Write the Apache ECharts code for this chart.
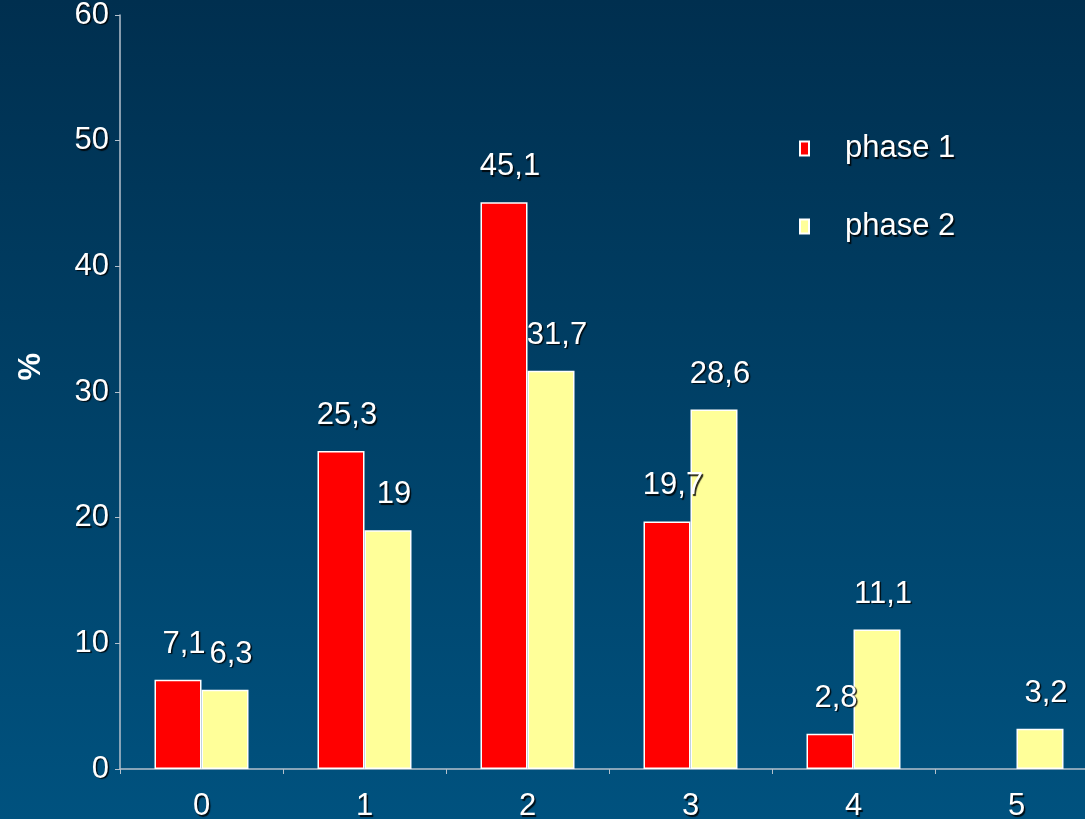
<!DOCTYPE html>
<html>
<head>
<meta charset="utf-8">
<script src="https://cdn.jsdelivr.net/npm/echarts@6/dist/echarts.min.js"></script>
<style>
  html, body { margin: 0; padding: 0; }
  #chart { width: 1085px; height: 819px; }
</style>
</head>
<body>
<div id="chart"></div>
<script>
// Categories along the x axis and the percentages for each phase
const categories = ['0', '1', '2', '3', '4', '5'];
const phase1 = [7.1, 25.3, 45.1, 19.7, 2.8, null];
const phase2 = [6.3, 19, 31.7, 28.6, 11.1, 3.2];
const seriesNames = ['phase 1', 'phase 2'];
const yTicks = [0, 10, 20, 30, 40, 50, 60];

const FONT = '"Liberation Sans", Arial, sans-serif';
const shadow = { textShadowColor: 'rgba(0,0,0,0.85)', textShadowBlur: 1, textShadowOffsetX: 1.5, textShadowOffsetY: 1.5 };

function commaFmt(p) {
  return String(p.value).replace('.', ',');
}

function barSeries(name, data, color) {
  return {
    name: name,
    type: 'bar',
    data: data,
    barWidth: 47,
    barGap: '0%',
    itemStyle: { color: color, borderColor: '#ffffff', borderWidth: 1.5 },
    label: {
      show: true,
      position: 'top',
      distance: 20,
      offset: [6, 0],
      formatter: commaFmt,
      color: '#ffffff',
      fontFamily: FONT,
      fontSize: 31,
      ...shadow
    }
  };
}

const chart = echarts.init(document.getElementById('chart'));
chart.setOption({
  animation: false,
  backgroundColor: {
    type: 'linear', x: 0, y: 0, x2: 0, y2: 1,
    colorStops: [
      { offset: 0, color: '#002f4f' },
      { offset: 1, color: '#00527f' }
    ]
  },
  // the plot area runs a little past the right edge of the canvas
  grid: { left: 120, top: 15, bottom: 50, width: 978, outerBoundsMode: 'none', containLabel: false },
  legend: {
    orient: 'vertical',
    left: 794,
    top: 128,
    itemWidth: 9,
    itemHeight: 14,
    itemGap: 47,
    icon: 'rect',
    data: seriesNames,
    textStyle: { color: '#ffffff', fontFamily: FONT, fontSize: 31, padding: [0, 0, 0, 31], ...shadow }
  },
  xAxis: {
    type: 'category',
    data: categories,
    axisLine: { lineStyle: { color: '#b4c0cc', width: 1.5 } },
    axisTick: { show: true, length: 5, lineStyle: { color: '#b4c0cc' } },
    axisLabel: { color: '#ffffff', fontFamily: FONT, fontSize: 31, margin: 22, ...shadow }
  },
  yAxis: {
    type: 'value',
    min: yTicks[0],
    max: yTicks[yTicks.length - 1],
    interval: 10,
    splitLine: { show: false },
    axisLine: { show: true, lineStyle: { color: '#b4c0cc', width: 1.5 } },
    axisTick: { show: true, length: 5, lineStyle: { color: '#b4c0cc' } },
    axisLabel: { color: '#ffffff', fontFamily: FONT, fontSize: 31, margin: 11, ...shadow }
  },
  graphic: [{
    type: 'text',
    left: 16,
    top: 353,
    rotation: Math.PI / 2,
    style: { text: '%', fill: '#ffffff', font: 'bold 31px ' + FONT }
  }],
  series: [
    barSeries(seriesNames[0], phase1, '#ff0000'),
    barSeries(seriesNames[1], phase2, '#ffff99')
  ]
});
</script>
</body>
</html>
